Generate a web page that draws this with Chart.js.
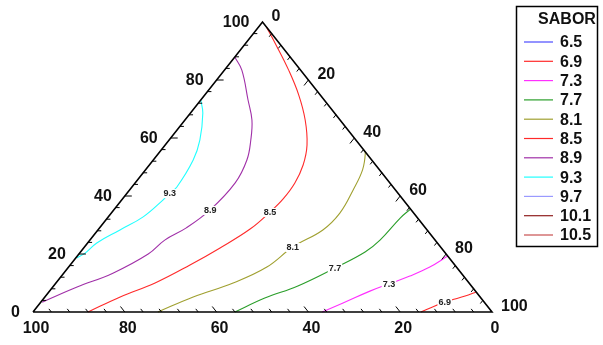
<!DOCTYPE html>
<html>
<head>
<meta charset="utf-8">
<script src="https://cdn.jsdelivr.net/npm/chart.js@4.4.1/dist/chart.umd.min.js"></script>
<style>
body{margin:0;background:#fff;}
#wrap{width:603px;height:345px;}
</style>
</head>
<body>
<div id="wrap"><canvas id="ternary" width="603" height="345"></canvas></div>
<script>
// contour lines, each point is [top %, right %]
var c69 = [[0,84.5],[2.1,86.5],[3.4,88.0],[4.5,89.7],[5.5,91.4],[6.9,93.1]];
var c73 = [[0,63.0],[3.1,66.0],[7.2,69.8],[9.7,72.7],[12.4,75.9],[15.5,78.7],[19.3,80.7]];
var c77 = [[0,44.0],[4.8,48.1],[9.0,53.2],[15.2,58.2],[20.7,62.0],[24.8,63.2],[32.4,63.8],[35.5,64.5]];
var c81 = [[0,27.2],[5.2,32.3],[10.0,38.6],[15.5,43.2],[22.4,45.4],[28.3,49.0],[34.1,49.8],[42.1,48.7],[49.0,47.3],[54.8,45.0],[55.9,44.1]];
var c85 = [[98.3,1.7],[92.1,6.9],[83.4,14.0],[74.8,20.5],[66.2,26.2],[57.6,30.9],[50.7,33.5],[44.5,34.8],[39.0,35.0],[34.5,34.4],[28.6,33.0],[22.1,29.7],[16.2,26.1],[10.0,21.6],[5.2,16.4],[0,12.0]];
var c89 = [[87.9,0],[83.4,3.8],[73.1,10.3],[66.2,14.6],[59.3,17.8],[52.4,20.4],[44.5,21.8],[35.2,21.0],[29.0,18.9],[24.8,16.3],[20.0,15.1],[13.4,10.7],[8.6,5.3],[3.4,0.3]];
var c93 = [[73.1,0],[68.6,2.7],[59.3,6.7],[52.4,8.7],[43.1,9.8],[41.0,9.3],[38.6,9.0],[32.8,7.6],[28.3,4.8],[23.8,2.0],[20.3,1.2],[18.6,0.2]];

var contourLines = [c69, c73, c77, c81, c85, c89, c93];
var contourLevels = ['6.9', '7.3', '7.7', '8.1', '8.5', '8.9', '9.3'];
var contourLabelAt = [2, 3, 3, 4, 9, 7, 5];

var legendValues = ['6.5','6.9','7.3','7.7','8.1','8.5','8.9','9.3','9.7','10.1','10.5'];
var legendColors = ['#4a4aff','#ff2a2a','#ff30ff','#2a9e2a','#a0a030','#ff2a2a','#a030a8','#20ffff','#9a9aff','#902020','#c85050'];
var axisTicks = [0, 20, 40, 60, 80, 100];

function tern(p) {
    return {x: (p[1] + p[0] / 2) / 100, y: p[0] / 100};
}
function colorFor(level) {
    return legendColors[legendValues.indexOf(level)];
}

var datasets = [{
    data: [{x:0,y:0},{x:1,y:0},{x:0.5,y:1},{x:0,y:0}],
    borderColor: '#000',
    borderWidth: 1.6,
    showLine: true,
    pointRadius: 0,
    tension: 0,
    clip: false
}];
for (var i = 0; i < contourLines.length; i++) {
    datasets.push({
        data: contourLines[i].map(tern),
        borderColor: colorFor(contourLevels[i]),
        borderWidth: 1.1,
        showLine: true,
        pointRadius: 0,
        tension: 0.4,
        clip: false
    });
}

var decor = {
    id: 'decor',
    afterDatasetsDraw: function(chart) {
        var ctx = chart.ctx, xs = chart.scales.x, ys = chart.scales.y;
        function px(t, r) { return [xs.getPixelForValue((r + t / 2) / 100), ys.getPixelForValue(t / 100)]; }
        function unit(a, b) { var dx = b[0]-a[0], dy = b[1]-a[1], d = Math.hypot(dx, dy); return [dx/d, dy/d]; }
        var BL = px(0, 0), BR = px(0, 100), AP = px(100, 0);
        var dBottom = unit(BR, AP), dRight = unit(AP, BL);

        ctx.save();
        ctx.strokeStyle = '#000';
        ctx.lineWidth = 1;
        for (var v = 4; v < 100; v += 4) {
            var len = (v % 20 === 0) ? 7 : 4;
            var a = px(v, 0);
            ctx.beginPath(); ctx.moveTo(a[0], a[1]); ctx.lineTo(a[0] + len, a[1]); ctx.stroke();
            var b = px(0, 100 - v);
            ctx.beginPath(); ctx.moveTo(b[0], b[1]); ctx.lineTo(b[0] + dBottom[0]*len, b[1] + dBottom[1]*len); ctx.stroke();
            var c = px(100 - v, v);
            ctx.beginPath(); ctx.moveTo(c[0], c[1]); ctx.lineTo(c[0] + dRight[0]*len, c[1] + dRight[1]*len); ctx.stroke();
        }

        // axis numbers
        ctx.fillStyle = '#111';
        ctx.font = 'bold 16px Arial, "Liberation Sans", sans-serif';
        ctx.textBaseline = 'middle';
        axisTicks.forEach(function(v) {
            var a = px(v, 0);
            ctx.textAlign = 'right';
            ctx.fillText(String(v), a[0] - 13, a[1] + 1);
            var b = px(0, 100 - v);
            ctx.textAlign = 'center';
            ctx.fillText(String(v), b[0] + 3, b[1] + 17);
            var c = px(100 - v, v);
            ctx.textAlign = 'left';
            ctx.fillText(String(v), c[0] + 9, c[1] - 5);
        });

        // contour labels
        ctx.font = 'bold 9px Arial, "Liberation Sans", sans-serif';
        ctx.textAlign = 'center';
        for (var i = 0; i < contourLevels.length; i++) {
            var pt = chart.getDatasetMeta(i + 1).data[contourLabelAt[i]];
            var w = ctx.measureText(contourLevels[i]).width;
            ctx.fillStyle = '#fff';
            ctx.fillRect(pt.x - w/2 - 1, pt.y - 4, w + 2, 9);
            ctx.fillStyle = '#222';
            ctx.fillText(contourLevels[i], pt.x, pt.y + 0.5);
        }

        // legend box
        ctx.strokeStyle = '#000';
        ctx.lineWidth = 1.5;
        ctx.strokeRect(516.5, 6.5, 81, 240);
        ctx.fillStyle = '#111';
        ctx.font = 'bold 16px Arial, "Liberation Sans", sans-serif';
        ctx.textAlign = 'center';
        ctx.fillText('SABOR', 567, 20);
        ctx.textAlign = 'left';
        for (var k = 0; k < legendValues.length; k++) {
            var y = 42 + k * 19.3;
            ctx.strokeStyle = legendColors[k];
            ctx.lineWidth = 1.2;
            ctx.beginPath(); ctx.moveTo(524, y); ctx.lineTo(553, y); ctx.stroke();
            ctx.fillStyle = '#111';
            ctx.fillText(legendValues[k], 560, y + 1);
        }
        ctx.restore();
    }
};

new Chart(document.getElementById('ternary').getContext('2d'), {
    type: 'scatter',
    data: {datasets: datasets},
    options: {
        responsive: false,
        devicePixelRatio: 1,
        animation: false,
        layout: {padding: {left: 33, right: 111, top: 22, bottom: 33}},
        plugins: {legend: {display: false}, tooltip: {enabled: false}},
        scales: {
            x: {type: 'linear', min: 0, max: 1, display: false},
            y: {type: 'linear', min: 0, max: 1, display: false}
        }
    },
    plugins: [decor]
});
</script>
</body>
</html>
